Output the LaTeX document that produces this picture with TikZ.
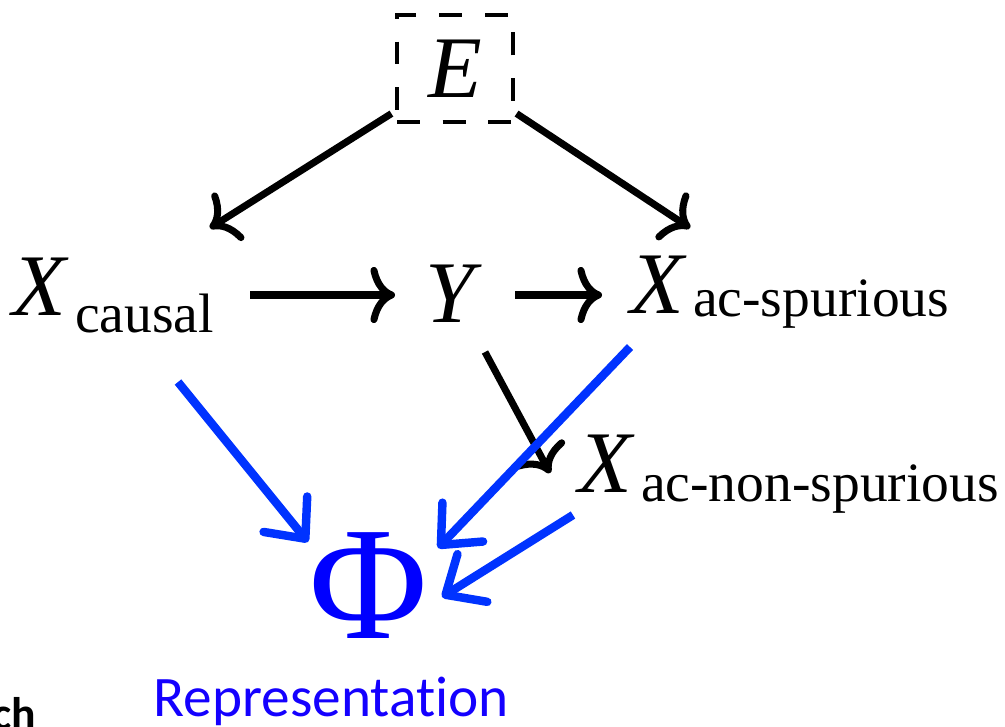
\documentclass[tikz,border=0pt]{standalone}
\usepackage{fontspec}
\setmainfont{Liberation Serif}
\newfontfamily\calib[Ligatures=NoCommon]{Carlito}
\usepackage{xcolor}
\usetikzlibrary{arrows.meta,positioning,calc}
\definecolor{arrowblue}{RGB}{0,51,255}
\definecolor{repblue}{RGB}{20,0,255}
% variable with a lowered subscript
\newcommand{\varsub}[3]{{\itshape #1}\kern2.5pt\raisebox{-#3}{\fontsize{15.8}{18}\selectfont #2}}

\begin{document}
\begin{tikzpicture}[every node/.style={inner sep=0pt, font=\fontsize{25}{29}\selectfont},
    causal/.style={-{To[length=7pt,width=16pt]}, line width=2pt},
    learn/.style={-{Straight Barb[length=9pt,width=16pt,round]}, line width=2.4pt, arrowblue}]
    \useasboundingbox (0,0) rectangle (10.05,7.26);
    \node[draw, dashed, dash pattern=on 6.5pt off 6.5pt, line width=0.9pt, minimum width=1.16cm, minimum height=1.07cm] (E) at (4.55,6.575) {\itshape E};
    \node[anchor=base west] (Xc) at (0.12,4.11) {\varsub{X}{causal}{5pt}};
    \node[anchor=base] (Y) at (4.50,4.04) {\itshape Y};
    \node[anchor=base west] (Xac) at (6.30,4.13) {\varsub{X}{ac-spurious}{1pt}};
    \node[anchor=base west] (Xnon) at (5.78,2.34) {\varsub{X}{ac-non-spurious}{2.8pt}};
    \node[text=blue, font=\fontsize{46}{50}\selectfont] (Phi) at (3.69,1.40) {Φ};
    \node[anchor=base west, text=repblue, font=\calib\fontsize{16.3}{20}\selectfont] (rep) at (1.53,0.10) {Representation};
    \node[anchor=base east, font=\calib\bfseries\fontsize{13}{16}\selectfont] (cut) at (0.37,-0.03) {ch};
    % causal graph
    \draw[causal] ($(E.south west)+(-0.04,0.10)$) -- ($(Xc.base west)+(1.98,0.87)$);
    \draw[causal] ($(E.south east)+(0.02,0.10)$) -- ($(Xac.base west)+(0.60,0.85)$);
    \draw[causal] ($(Xc.base west)+(2.38,0.20)$) -- ($(Y.base)+(-0.55,0.27)$);
    \draw[causal] ($(Y.base)+(0.65,0.27)$) -- ($(Xac.base west)+(-0.28,0.18)$);
    \draw[causal] ($(Y.base)+(0.35,-0.30)$) -- ($(Xnon.base west)+(-0.28,0.19)$);
    % into the representation
    \draw[learn] ($(Xc.base west)+(1.66,-0.67)$) -- ($(Phi)+(-0.61,0.44)$);
    \draw[learn] ($(Xac.base west)+(0.00,-0.34)$) -- ($(Phi)+(0.69,0.38)$);
    \draw[learn] ($(Xnon.base west)+(-0.05,-0.23)$) -- ($(Phi)+(0.73,-0.11)$);
\end{tikzpicture}
\end{document}
